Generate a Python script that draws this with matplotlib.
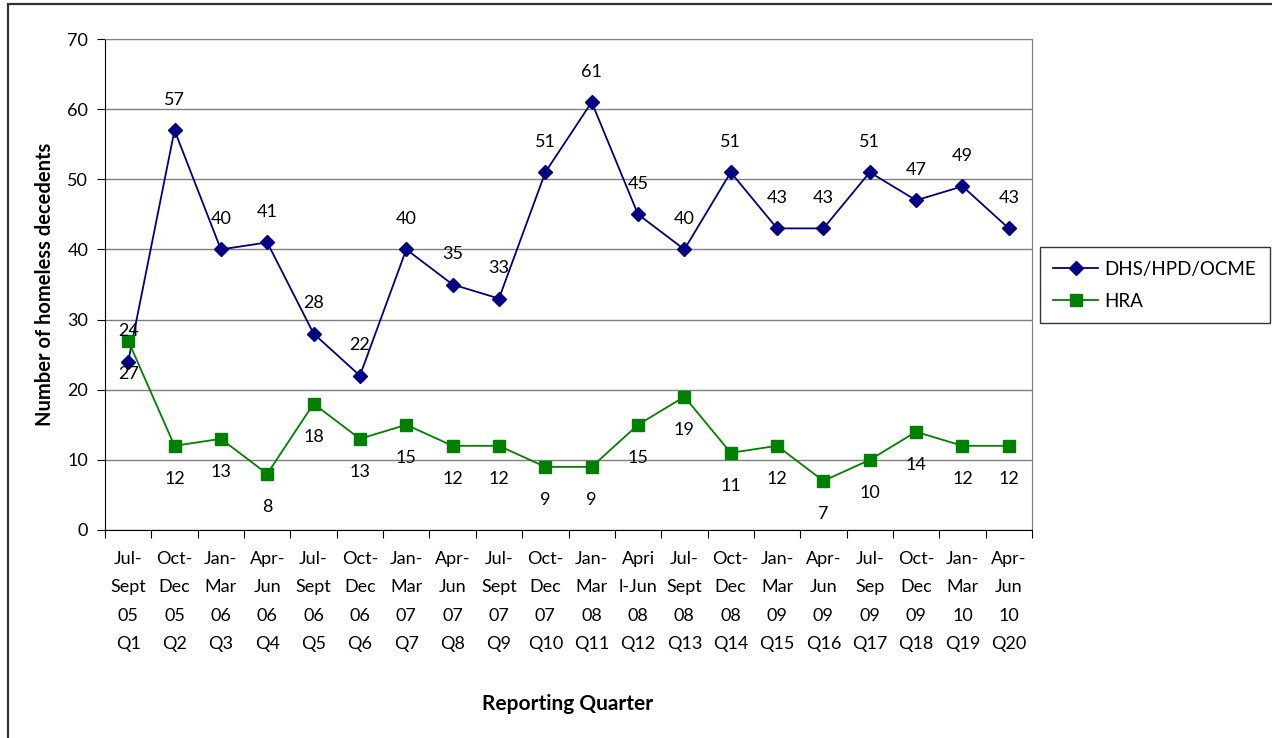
import matplotlib
matplotlib.use("agg")
from matplotlib import pyplot as plt
from matplotlib.patches import Rectangle

plt.rcParams['font.family'] = ['Lato', 'DejaVu Sans']

quarters = ["Jul-\nSept\n05\nQ1", "Oct-\nDec\n05\nQ2", "Jan-\nMar\n06\nQ3", "Apr-\nJun\n06\nQ4",
            "Jul-\nSept\n06\nQ5", "Oct-\nDec\n06\nQ6", "Jan-\nMar\n07\nQ7", "Apr-\nJun\n07\nQ8",
            "Jul-\nSept\n07\nQ9", "Oct-\nDec\n07\nQ10", "Jan-\nMar\n08\nQ11", "Apri\nl-Jun\n08\nQ12",
            "Jul-\nSept\n08\nQ13", "Oct-\nDec\n08\nQ14", "Jan-\nMar\n09\nQ15", "Apr-\nJun\n09\nQ16",
            "Jul-\nSep\n09\nQ17", "Oct-\nDec\n09\nQ18", "Jan-\nMar\n10\nQ19", "Apr-\nJun\n10\nQ20"]
dhs = [24, 57, 40, 41, 28, 22, 40, 35, 33, 51, 61, 45, 40, 51, 43, 43, 51, 47, 49, 43]
hra = [27, 12, 13, 8, 18, 13, 15, 12, 12, 9, 9, 15, 19, 11, 12, 7, 10, 14, 12, 12]

W, H = 1272, 738
fig = plt.figure(figsize=(W / 100, H / 100), dpi=100)
# outer chart border; only left and top edges fall inside the image
border = Rectangle((8 / W, -0.05), 1.0, 1.05 - 4 / H, transform=fig.transFigure,
                   fill=False, edgecolor='#333333', linewidth=1.6, clip_on=False)
fig.add_artist(border)

ax = fig.add_axes([105 / W, 1 - 530 / H, (1032 - 105) / W, (530 - 39) / H])
x = list(range(len(quarters)))

l1, = ax.plot(x, dhs, color='#000080', marker='D', markersize=7, linewidth=1.3, label='DHS/HPD/OCME')
l2, = ax.plot(x, hra, color='#008000', marker='s', markersize=8, linewidth=1.3, label='HRA')

for i, v in enumerate(dhs):
    ax.annotate(str(v), (i, v), xytext=(0, 22), textcoords='offset points', ha='center', va='center', fontsize=13)
for i, v in enumerate(hra):
    ax.annotate(str(v), (i, v), xytext=(0, -24), textcoords='offset points', ha='center', va='center', fontsize=13)

ax.set_xlim(-0.5, len(quarters) - 0.5)
ax.set_ylim(0, 70)
ax.set_yticks(range(0, 71, 10))
ax.set_yticklabels([str(t) for t in range(0, 71, 10)], fontsize=13)
ax.set_xticks([i - 0.5 for i in range(len(quarters) + 1)])
ax.set_xticklabels([])
ax.set_xticks(x, minor=True)
ax.set_xticklabels(quarters, minor=True, fontsize=13, linespacing=1.95)
ax.tick_params(axis='x', which='minor', length=0, pad=15)
ax.tick_params(axis='x', which='major', length=6, direction='out')
ax.tick_params(axis='y', length=6, direction='out', pad=6)

ax.yaxis.grid(True, color='#7f7f7f', linewidth=1)
ax.set_axisbelow(True)
for s in ['top', 'right']:
    ax.spines[s].set_color('#7f7f7f')
for s in ['left', 'bottom']:
    ax.spines[s].set_color('black')

ax.set_ylabel('Number of homeless decedents', fontsize=14.5, fontweight='bold', labelpad=9)
fig.text(568 / W, 1 - 704 / H, 'Reporting Quarter', ha='center', va='center', fontsize=15, fontweight='bold')

leg = fig.legend(handles=[l1, l2], loc='center left', bbox_to_anchor=(1040 / W, 1 - 285 / H),
                 borderaxespad=0, fontsize=13.5, frameon=True, fancybox=False, edgecolor='black',
                 handlelength=2.4, handletextpad=0.35, borderpad=0.7, labelspacing=0.8)
leg.get_frame().set_linewidth(1)

fig.savefig('out.png', dpi=100)
